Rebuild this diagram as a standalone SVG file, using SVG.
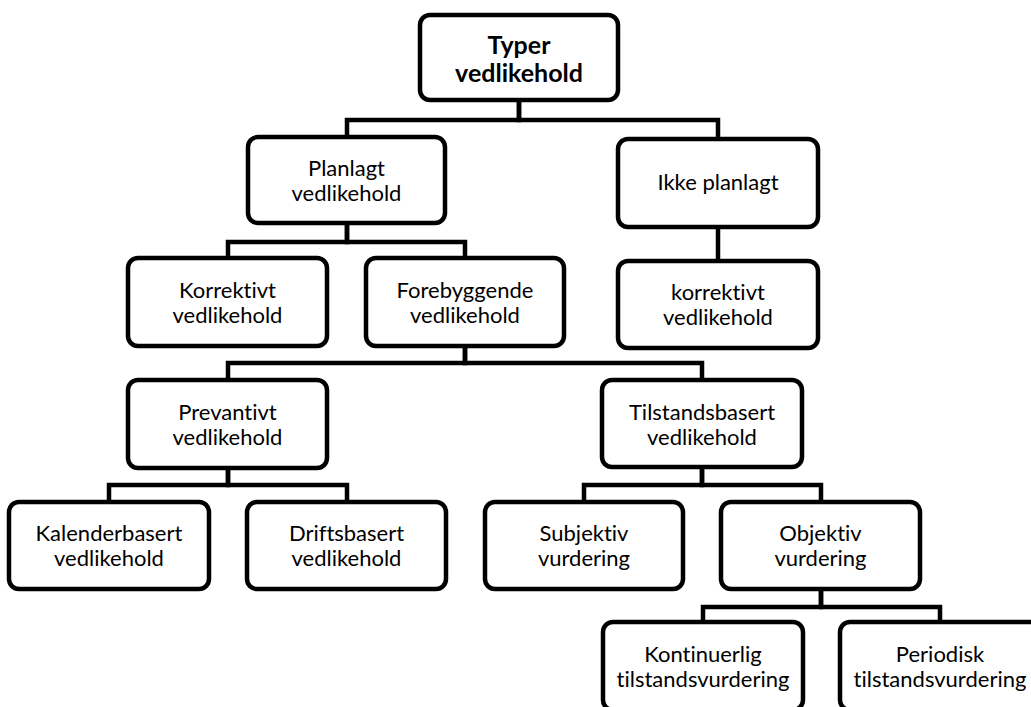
<svg xmlns="http://www.w3.org/2000/svg" width="1031" height="707" viewBox="0 0 1031 707">
  <style>
    .box { fill: #ffffff; stroke: #000000; stroke-width: 4.5; }
    .lbl { font-family: Lato, "Liberation Sans", sans-serif; font-size: 22px; fill: #000000; text-anchor: middle; font-variant-ligatures: none; font-feature-settings: "liga" 0, "dlig" 0; }
    .title { font-weight: bold; font-size: 25px; }
    .links path { fill: none; stroke: #000000; stroke-width: 4.5; stroke-linejoin: miter; stroke-linecap: butt; }
  </style>

  <rect width="1031" height="707" fill="#ffffff"/>

  <!-- connectors: elbow lines from each parent down to its children -->
  <g id="connectors" class="links">
    <path d="M519 100 V120 H347 V137"/>
    <path d="M519 100 V120 H718 V139"/>
    <path d="M347 223 V242 H228 V258"/>
    <path d="M347 223 V242 H465 V258"/>
    <path d="M718 227 V261"/>
    <path d="M465 346 V363 H228 V380"/>
    <path d="M465 346 V363 H702 V380"/>
    <path d="M228 468 V485 H109 V502"/>
    <path d="M228 468 V485 H347 V502"/>
    <path d="M702 467 V485 H584 V502"/>
    <path d="M702 467 V485 H821 V502"/>
    <path d="M821 589 V607 H703 V622"/>
    <path d="M821 589 V607 H940 V622"/>
  </g>

  <g id="node-typer">
    <rect class="box" x="420" y="15" width="198" height="85" rx="10"/>
    <text class="lbl title" x="519" y="54">Typer</text>
    <text class="lbl title" x="519" y="82">vedlikehold</text>
  </g>

  <g id="node-planlagt">
    <rect class="box" x="248" y="137" width="197" height="86" rx="10"/>
    <text class="lbl" x="346.5" y="176">Planlagt</text>
    <text class="lbl" x="346.5" y="201">vedlikehold</text>
  </g>

  <g id="node-ikke-planlagt">
    <rect class="box" x="618" y="139" width="200" height="88" rx="10"/>
    <text class="lbl" x="718" y="190">Ikke planlagt</text>
  </g>

  <g id="node-korrektivt">
    <rect class="box" x="128" y="258" width="199" height="88" rx="10"/>
    <text class="lbl" x="227.5" y="298">Korrektivt</text>
    <text class="lbl" x="227.5" y="323">vedlikehold</text>
  </g>

  <g id="node-forebyggende">
    <rect class="box" x="366" y="258" width="198" height="88" rx="10"/>
    <text class="lbl" x="465" y="298">Forebyggende</text>
    <text class="lbl" x="465" y="323">vedlikehold</text>
  </g>

  <g id="node-korrektivt-ikke-planlagt">
    <rect class="box" x="618" y="261" width="200" height="87" rx="10"/>
    <text class="lbl" x="718" y="300">korrektivt</text>
    <text class="lbl" x="718" y="325">vedlikehold</text>
  </g>

  <g id="node-prevantivt">
    <rect class="box" x="128" y="380" width="199" height="88" rx="10"/>
    <text class="lbl" x="227.5" y="420">Prevantivt</text>
    <text class="lbl" x="227.5" y="445">vedlikehold</text>
  </g>

  <g id="node-tilstandsbasert">
    <rect class="box" x="602" y="380" width="200" height="87" rx="10"/>
    <text class="lbl" x="702" y="420">Tilstandsbasert</text>
    <text class="lbl" x="702" y="445">vedlikehold</text>
  </g>

  <g id="node-kalenderbasert">
    <rect class="box" x="9" y="502" width="200" height="87" rx="10"/>
    <text class="lbl" x="109" y="541">Kalenderbasert</text>
    <text class="lbl" x="109" y="566">vedlikehold</text>
  </g>

  <g id="node-driftsbasert">
    <rect class="box" x="247" y="502" width="199" height="87" rx="10"/>
    <text class="lbl" x="346.5" y="541">Driftsbasert</text>
    <text class="lbl" x="346.5" y="566">vedlikehold</text>
  </g>

  <g id="node-subjektiv">
    <rect class="box" x="485" y="502" width="198" height="87" rx="10"/>
    <text class="lbl" x="584" y="541">Subjektiv</text>
    <text class="lbl" x="584" y="566">vurdering</text>
  </g>

  <g id="node-objektiv">
    <rect class="box" x="721" y="502" width="199" height="87" rx="10"/>
    <text class="lbl" x="820.5" y="541">Objektiv</text>
    <text class="lbl" x="820.5" y="566">vurdering</text>
  </g>

  <g id="node-kontinuerlig">
    <rect class="box" x="603" y="622" width="200" height="88" rx="10"/>
    <text class="lbl" x="703" y="662">Kontinuerlig</text>
    <text class="lbl" x="703" y="687">tilstandsvurdering</text>
  </g>

  <g id="node-periodisk">
    <rect class="box" x="840" y="622" width="200" height="88" rx="10"/>
    <text class="lbl" x="940" y="662">Periodisk</text>
    <text class="lbl" x="940" y="687">tilstandsvurdering</text>
  </g>
</svg>
